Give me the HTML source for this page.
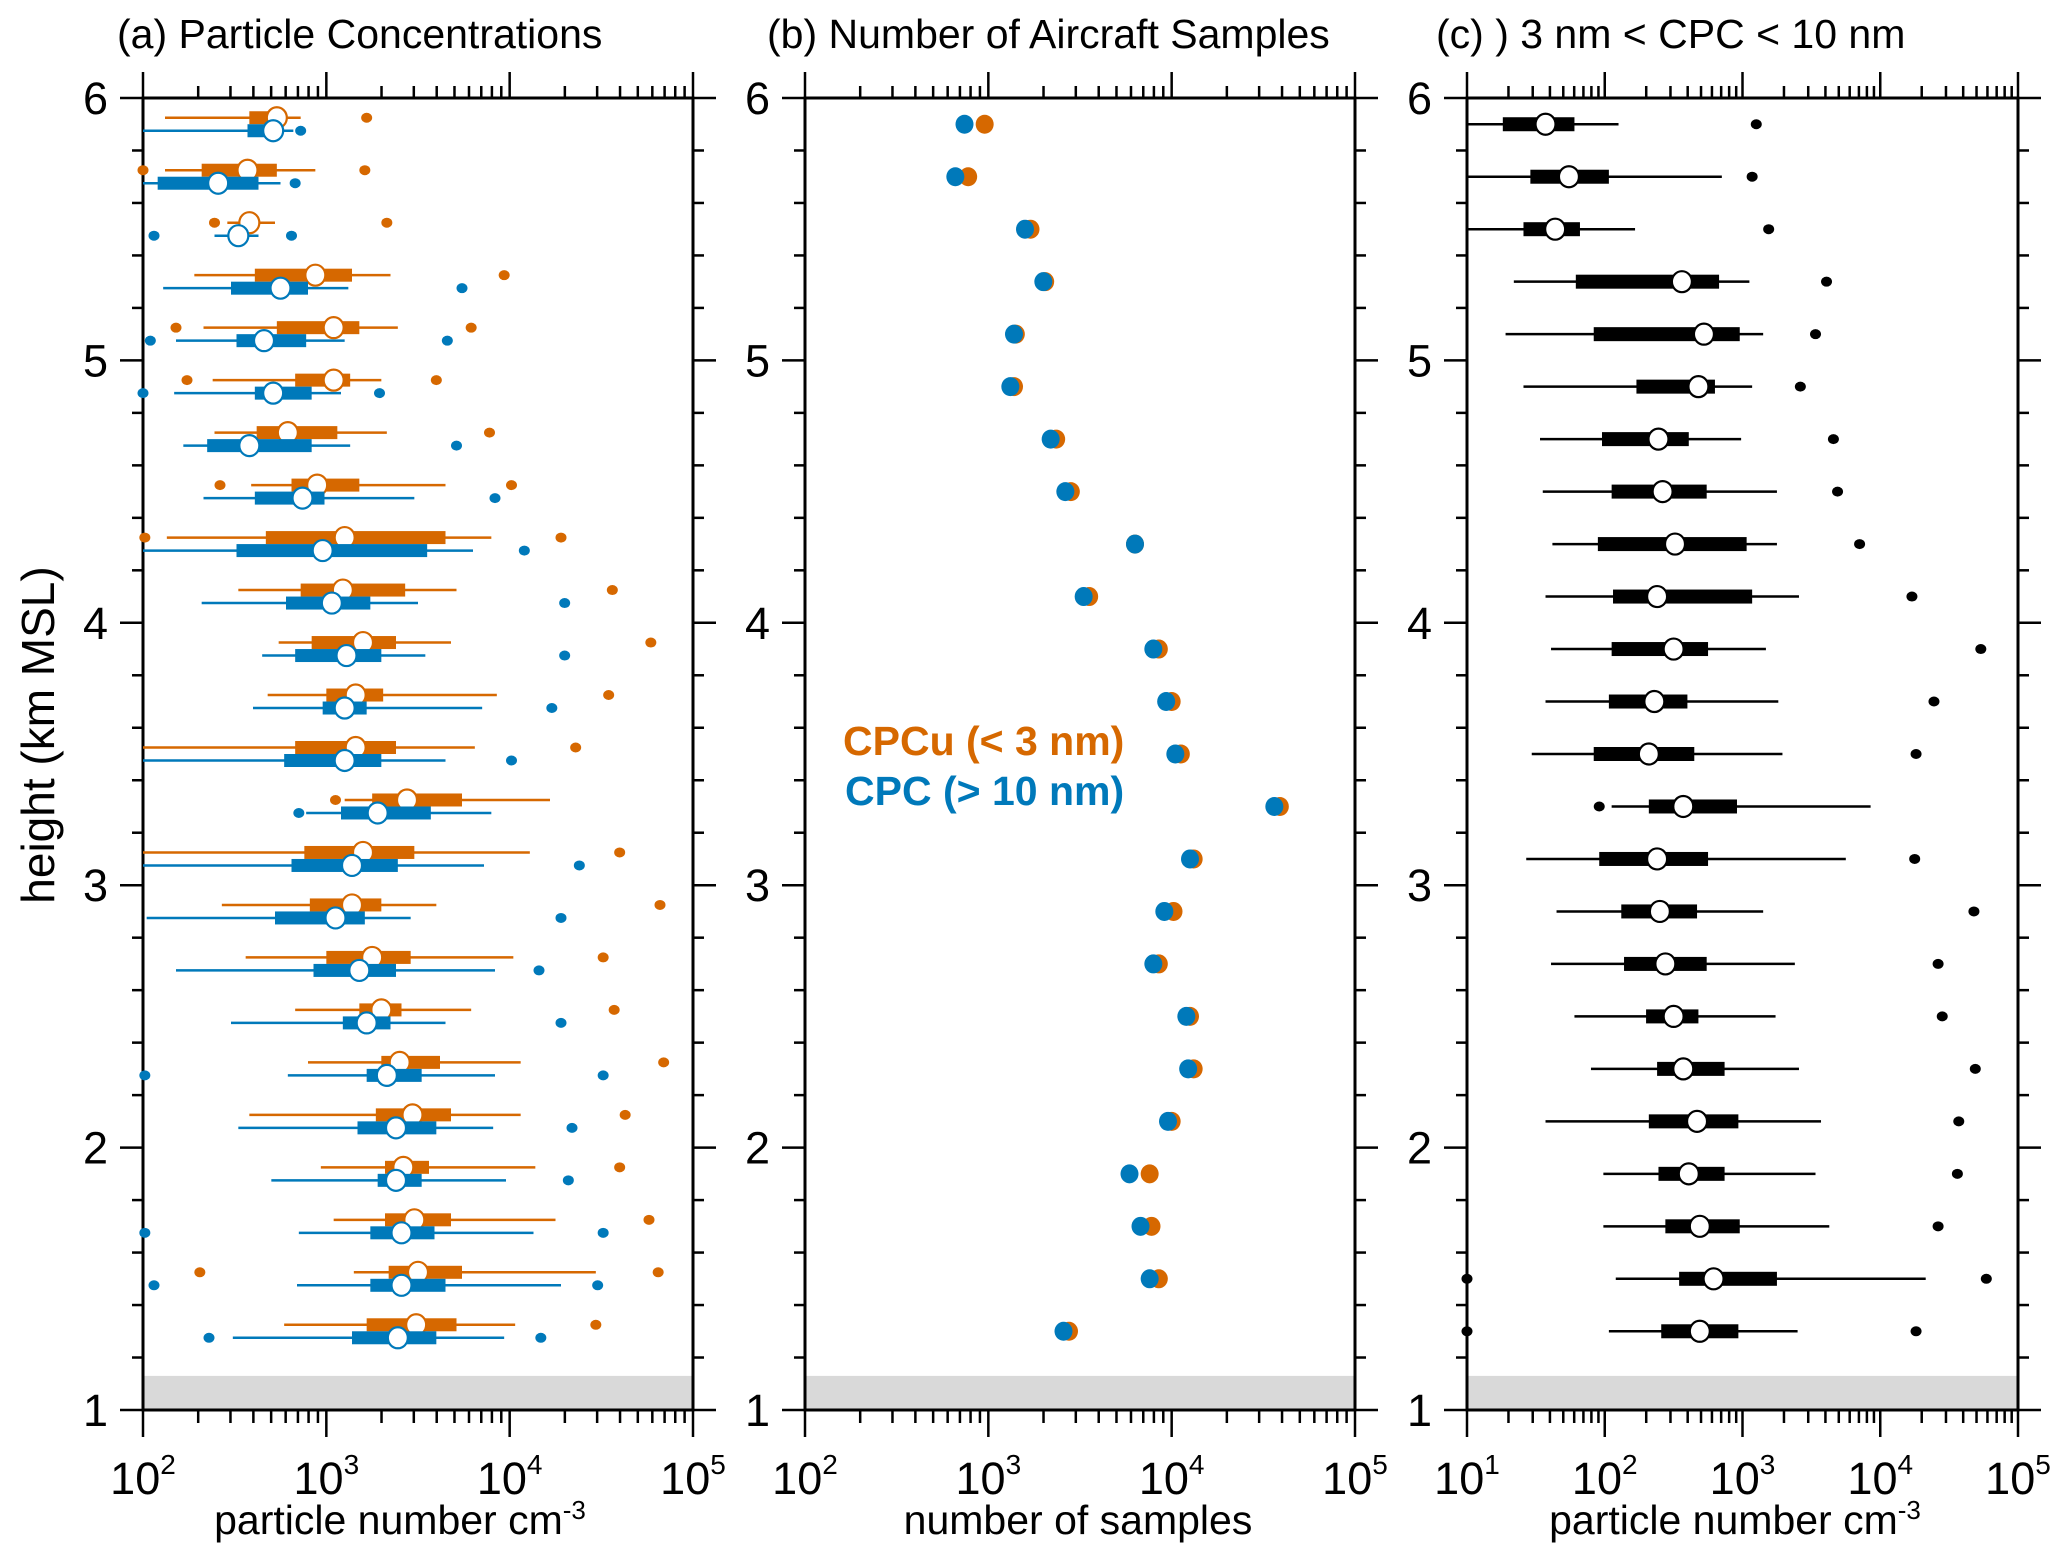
<!DOCTYPE html>
<html><head><meta charset="utf-8"><style>
html,body{margin:0;padding:0;background:#fff;}
svg{display:block;font-family:"Liberation Sans",Arial,sans-serif;}
</style></head><body>
<svg id="chart" xmlns="http://www.w3.org/2000/svg" width="2067" height="1560" viewBox="0 0 2067 1560">
<rect x="0" y="0" width="2067" height="1560" fill="#fff"/>
<g id="layer"></g>
</svg>
<script>
// ---- data (log10 of values) ----
const heights = [5.9,5.7,5.5,5.3,5.1,4.9,4.7,4.5,4.3,4.1,3.9,3.7,3.5,3.3,3.1,2.9,2.7,2.5,2.3,2.1,1.9,1.7,1.5,1.3];
// Panel (a) CPCu (< 3 nm), log10 particle number cm-3
const cpcuLow  = [2.12,2.12,2.46,2.28,2.33,2.38,2.39,2.59,2.13,2.52,2.74,2.68,2.00,3.10,2.00,2.43,2.56,2.83,2.90,2.58,2.97,3.04,3.15,2.77];
const cpcuQ1   = [2.58,2.32,2.53,2.61,2.73,2.83,2.62,2.81,2.67,2.86,2.92,3.00,2.83,3.25,2.88,2.91,3.00,3.18,3.30,3.27,3.32,3.32,3.34,3.22];
const cpcuMed  = [2.73,2.57,2.58,2.94,3.04,3.04,2.79,2.95,3.10,3.09,3.20,3.16,3.16,3.44,3.20,3.14,3.25,3.30,3.40,3.47,3.42,3.48,3.50,3.49];
const cpcuQ3   = [2.70,2.73,2.56,3.14,3.18,3.13,3.06,3.18,3.65,3.43,3.38,3.31,3.38,3.74,3.48,3.30,3.46,3.41,3.62,3.68,3.56,3.68,3.74,3.71];
const cpcuHigh = [2.86,2.94,2.72,3.35,3.39,3.30,3.33,3.65,3.90,3.71,3.68,3.93,3.81,4.22,4.11,3.60,4.02,3.79,4.06,4.06,4.14,4.25,4.47,4.03];
const cpcuOut  = [[3.22],[2.00,3.21],[2.39,3.33],[3.97],[2.18,3.79],[2.24,3.60],[3.89],[2.42,4.01],[2.01,4.28],[4.56],[4.77],[4.54],[4.36],[3.05],[4.60],[4.82],[4.51],[4.57],[4.84],[4.63],[4.60],[4.76],[2.31,4.81],[4.47]];
// Panel (a) CPC (> 10 nm)
const cpcLow  = [2.00,2.00,2.39,2.11,2.18,2.17,2.22,2.33,2.00,2.32,2.65,2.60,2.00,2.89,2.00,2.02,2.18,2.48,2.79,2.52,2.70,2.85,2.84,2.49];
const cpcQ1   = [2.57,2.08,2.47,2.48,2.51,2.61,2.35,2.61,2.51,2.78,2.83,2.98,2.77,3.08,2.81,2.72,2.93,3.09,3.22,3.17,3.28,3.24,3.24,3.14];
const cpcMed  = [2.71,2.41,2.52,2.75,2.66,2.71,2.58,2.87,2.98,3.03,3.11,3.10,3.10,3.28,3.14,3.05,3.18,3.22,3.33,3.38,3.38,3.41,3.41,3.39];
const cpcQ3   = [2.68,2.63,2.55,2.90,2.89,2.92,2.92,2.99,3.55,3.24,3.30,3.22,3.30,3.57,3.39,3.21,3.38,3.35,3.52,3.60,3.52,3.59,3.65,3.60];
const cpcHigh = [2.82,2.75,2.63,3.12,3.10,3.08,3.13,3.48,3.80,3.50,3.54,3.85,3.65,3.90,3.86,3.46,3.92,3.65,3.92,3.91,3.98,4.13,4.28,3.97];
const cpcOut  = [[2.86],[2.83],[2.06,2.81],[3.74],[2.04,3.66],[2.00,3.29],[3.71],[3.92],[4.08],[4.30],[4.30],[4.23],[4.01],[2.85],[4.38],[4.28],[4.16],[4.28],[2.01,4.51],[4.34],[4.32],[2.01,4.51],[2.06,4.48],[2.36,4.17]];
// Panel (b) number of samples (log10)
const samplesCpcu = [2.98,2.89,3.23,3.31,3.15,3.14,3.37,3.45,3.80,3.55,3.93,4.00,4.05,4.59,4.12,4.01,3.93,4.10,4.12,4.00,3.88,3.89,3.93,3.44];
const samplesCpc  = [2.87,2.82,3.20,3.30,3.14,3.12,3.34,3.42,3.80,3.52,3.90,3.97,4.02,4.56,4.10,3.96,3.90,4.08,4.09,3.98,3.77,3.83,3.88,3.41];
// Panel (c) 3 nm < CPC < 10 nm (log10)
const diffLow  = [1.00,1.00,1.00,1.34,1.28,1.41,1.53,1.55,1.62,1.57,1.61,1.57,1.47,2.05,1.43,1.65,1.61,1.78,1.90,1.57,1.99,1.99,2.08,2.03];
const diffQ1   = [1.26,1.46,1.41,1.79,1.92,2.23,1.98,2.05,1.95,2.06,2.05,2.03,1.92,2.32,1.96,2.12,2.14,2.30,2.38,2.32,2.39,2.44,2.54,2.41];
const diffMed  = [1.57,1.74,1.64,2.56,2.72,2.68,2.39,2.42,2.51,2.38,2.50,2.36,2.32,2.57,2.38,2.40,2.44,2.50,2.57,2.67,2.61,2.69,2.79,2.69];
const diffQ3   = [1.78,2.03,1.82,2.83,2.98,2.80,2.61,2.74,3.03,3.07,2.75,2.60,2.65,2.96,2.75,2.67,2.74,2.68,2.87,2.97,2.87,2.98,3.25,2.97];
const diffHigh = [2.10,2.85,2.22,3.05,3.15,3.07,2.99,3.25,3.25,3.41,3.17,3.26,3.29,3.93,3.75,3.15,3.38,3.24,3.41,3.57,3.53,3.63,4.33,3.40];
const diffOut  = [[3.10],[3.07],[3.19],[3.61],[3.53],[3.42],[3.66],[3.69],[3.85],[4.23],[4.73],[4.39],[4.26],[1.96],[4.25],[4.68],[4.42],[4.45],[4.69],[4.57],[4.56],[4.42],[1.00,4.77],[1.00,4.26]];
const yTicks = [1,2,3,4,5,6];

const ORANGE = '#D66800', BLUE = '#0079BA';
const NS = 'http://www.w3.org/2000/svg';
const layer = document.getElementById('layer');
const TOP = 98, BOT = 1410;
const yOf = h => TOP + (6 - h) * (BOT - TOP) / 5;
const panels = [
  {id:'a', x0:143, x1:693, d0:2, d1:5},
  {id:'b', x0:805, x1:1355, d0:2, d1:5},
  {id:'c', x0:1467, x1:2018, d0:1, d1:5}
];
panels.forEach(p => p.x = v => p.x0 + (v - p.d0) * (p.x1 - p.x0) / (p.d1 - p.d0));

function mk(tag, attrs, parent) {
  const e = document.createElementNS(NS, tag);
  for (const k in attrs) e.setAttribute(k, attrs[k]);
  (parent || layer).appendChild(e);
  return e;
}

// ---- axes ----
panels.forEach(p => {
  const g = mk('g', {});
  
  
  const band = mk('rect', {x:p.x0, y:yOf(1.13), width:p.x1-p.x0, height:BOT-yOf(1.13), fill:'#d9d9d9'}, g);
  
  
  const frame = mk('rect', {x:p.x0, y:TOP, width:p.x1-p.x0, height:BOT-TOP, fill:'none', stroke:'#000', 'stroke-width':3}, g);
  
  
  for (let d = p.d0; d <= p.d1; d++) {
    for (let m = 1; m <= 9; m++) {
      if (d === p.d1 && m > 1) break;
      const x = p.x(d + Math.log10(m));
      const major = m === 1;
      mk('line', {x1:x, x2:x, y1:TOP, y2:TOP-(major?26:12), stroke:'#000', 'stroke-width':2.5}, g);
      mk('line', {x1:x, x2:x, y1:BOT, y2:BOT+(major?27:13), stroke:'#000', 'stroke-width':2.5}, g);
    }
    const t = mk('text', {x:p.x(d), y:1494, 'font-size':45, 'text-anchor':'middle'}, g);
    
    
    t.innerHTML = '10<tspan font-size="28" dy="-20">' + d + '</tspan>';
  }
  for (let h = 1; h <= 6.001; h += 0.2) {
    const hh = Math.round(h * 10) / 10;
    const major = Math.abs(hh - Math.round(hh)) < 0.01;
    const y = yOf(hh);
    mk('line', {x1:p.x0, x2:p.x0-(major?23:11), y1:y, y2:y, stroke:'#000', 'stroke-width':2.5}, g);
    mk('line', {x1:p.x1, x2:p.x1+(major?23:11), y1:y, y2:y, stroke:'#000', 'stroke-width':2.5}, g);
  }
  yTicks.forEach(v => {
    const t = mk('text', {x:p.x0-35, y:yOf(v)+16, 'font-size':45, 'text-anchor':'end'}, g);
    
    
    t.textContent = v;
  });
});

function boxSeries(p, low, q1, med, q3, high, outs, color, dy, name, hh, circStroke) {
  const g = mk('g', {});
  
  
  heights.forEach((h, i) => {
    const y = yOf(h) + dy;
    const w = mk('line', {x1:p.x(low[i]), x2:p.x(high[i]), y1:y, y2:y, stroke:color, 'stroke-width':2.5}, g);
    
    
    const a = Math.min(q1[i], q3[i]), b = Math.max(q1[i], q3[i]);
    const r = mk('rect', {x:p.x(a), y:y-hh, width:p.x(b)-p.x(a), height:2*hh, fill:color}, g);
    
    
    const c = mk('ellipse', {cx:p.x(med[i]), cy:y, rx:10, ry:10.5, fill:'#fff', stroke:circStroke, 'stroke-width':2.2}, g);
    
    
    outs[i].forEach(v => {
      const o = mk('ellipse', {cx:p.x(v), cy:y, rx:5.5, ry:5, fill:color}, g);
      
      
    });
  });
}
boxSeries(panels[0], cpcuLow, cpcuQ1, cpcuMed, cpcuQ3, cpcuHigh, cpcuOut, ORANGE, -6.5, 'cpcu-series', 6.5, ORANGE);
boxSeries(panels[0], cpcLow, cpcQ1, cpcMed, cpcQ3, cpcHigh, cpcOut, BLUE, 6.5, 'cpc-series', 6.5, BLUE);

[[samplesCpcu, ORANGE, 'samples-cpcu'], [samplesCpc, BLUE, 'samples-cpc']].forEach(([arr, col, nm]) => {
  const g = mk('g', {});
  
  
  heights.forEach((h, i) => {
    const c = mk('ellipse', {cx:panels[1].x(arr[i]), cy:yOf(h), rx:9, ry:9.5, fill:col}, g);
    
    
  });
});

boxSeries(panels[2], diffLow, diffQ1, diffMed, diffQ3, diffHigh, diffOut, '#000', 0, 'difference-series', 7, '#000');

function txt(s, attrs, name) {
  const t = mk('text', attrs);
  
  
  t.innerHTML = s;
  return t;
}
txt('(a) Particle Concentrations', {x:117, y:48, 'font-size':41}, 'panel-a-title');
txt('(b) Number of Aircraft Samples', {x:767, y:48, 'font-size':41}, 'panel-b-title');
txt('(c) ) 3 nm &lt; CPC &lt; 10 nm', {x:1436, y:48, 'font-size':41}, 'panel-c-title');
txt('particle number cm<tspan font-size="26" dy="-15">-3</tspan>', {x:400, y:1534, 'font-size':41, 'text-anchor':'middle'}, 'panel-a-x-title');
txt('number of samples', {x:1078, y:1534, 'font-size':41, 'text-anchor':'middle'}, 'panel-b-x-title');
txt('particle number cm<tspan font-size="26" dy="-15">-3</tspan>', {x:1735, y:1534, 'font-size':41, 'text-anchor':'middle'}, 'panel-c-x-title');
txt('height (km MSL)', {x:0, y:0, 'font-size':46, 'text-anchor':'middle', transform:'translate(54,735) rotate(-90)'}, 'y-axis-title');
txt('CPCu (&lt; 3 nm)', {x:843, y:755, 'font-size':41, 'font-weight':'bold', fill:ORANGE}, 'legend-cpcu');
txt('CPC (&gt; 10 nm)', {x:845, y:805, 'font-size':41, 'font-weight':'bold', fill:BLUE}, 'legend-cpc');
</script>
</body></html>
